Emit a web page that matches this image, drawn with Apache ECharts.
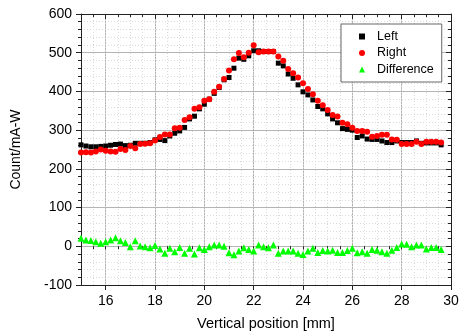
<!DOCTYPE html>
<html>
<head>
<meta charset="utf-8">
<script src="https://cdn.jsdelivr.net/npm/echarts@6/dist/echarts.min.js"></script>
<style>
html, body { margin: 0; padding: 0; background: #fff; }
#graph { width: 459px; height: 335px; }
</style>
</head>
<body>
<div id="graph"></div>
<script>
"use strict"

// vertical position [mm]
const positions = [15.0, 15.2, 15.4, 15.6, 15.8, 16.0, 16.2, 16.4, 16.6, 16.8,
    17.0, 17.2, 17.4, 17.6, 17.8, 18.0, 18.2, 18.4, 18.6, 18.8,
    19.0, 19.2, 19.4, 19.6, 19.8, 20.0, 20.2, 20.4, 20.6, 20.8,
    21.0, 21.2, 21.4, 21.6, 21.8, 22.0, 22.2, 22.4, 22.6, 22.8,
    23.0, 23.2, 23.4, 23.6, 23.8, 24.0, 24.2, 24.4, 24.6, 24.8,
    25.0, 25.2, 25.4, 25.6, 25.8, 26.0, 26.2, 26.4, 26.6, 26.8,
    27.0, 27.2, 27.4, 27.6, 27.8, 28.0, 28.2, 28.4, 28.6, 28.8,
    29.0, 29.2, 29.4, 29.6];
const leftVals = [262, 259, 257, 257, 258, 259, 261, 263, 264, 260,
    261, 266, 266, 266, 268, 275, 276, 273, 285, 292,
    298, 307, 329, 336, 355, 367, 380, 395, 410, 430,
    436, 460, 486, 483, 492, 505, 505, 503, 503, 503,
    473, 466, 445, 434, 417, 399, 391, 378, 361, 355,
    342, 329, 319, 304, 302, 300, 281, 285, 277, 276,
    276, 272, 268, 268, 272, 268, 268, 268, 272, 266,
    267, 267, 267, 262];
const rightVals = [242, 243, 242, 245, 250, 247, 245, 244, 251, 249,
    259, 253, 264, 265, 266, 273, 282, 289, 289, 305,
    306, 326, 333, 355, 359, 376, 380, 399, 412, 432,
    454, 483, 499, 488, 500, 519, 501, 503, 503, 503,
    490, 479, 458, 447, 436, 421, 406, 393, 376, 364,
    352, 339, 335, 319, 315, 306, 298, 298, 296, 283,
    285, 288, 288, 276, 275, 264, 264, 264, 270, 264,
    270, 270, 270, 268];
const diffVals = [21, 16, 15, 12, 8, 12, 16, 22, 14, 10,
    -1, 14, 1, -1, -4, 2, -7, -18, -5, -14,
    -3, -18, -5, -20, -4, -8, -1, 3, 3, 0,
    -17, -22, -12, -4, -8, -12, 3, -1, -4, 3,
    -18, -12, -12, -12, -18, -21, -12, -5, -16, -11,
    -12, -10, -16, -16, -11, -5, -17, -14, -18, -8,
    -10, -14, -18, -10, -3, 6, 5, -1, 3, 3,
    -7, -3, -3, -8];
const majorX = [16, 18, 20, 22, 24, 26, 28, 30];

const axisCol = "#222";
const fontFam = "Liberation Sans, Arial, sans-serif";
const gridRect = { left: 81, right: 8, top: 14, bottom: 50, outerBoundsMode: "none" };

const pair = vals => positions.map((x, i) => [x, vals[i]]);

const xMajor = (pos, inside, show) => ({
    type: "value", gridIndex: 0, position: pos, min: 15, max: 30,
    axisLine: { show: true, onZero: false, lineStyle: { color: axisCol } },
    axisTick: { show: true, inside: inside, length: 5, customValues: majorX, lineStyle: { color: axisCol } },
    axisLabel: { show: show, customValues: majorX, margin: 9, color: "#000", fontSize: 14, fontFamily: fontFam },
    splitLine: { show: show, lineStyle: { color: "#b4b4b4", width: 1 } },
    name: show ? "Vertical position [mm]" : "", nameLocation: "middle", nameGap: 31,
    nameTextStyle: { color: "#000", fontSize: 14.5, fontFamily: fontFam }
});
const xMinor = (pos, inside, show) => ({
    type: "value", gridIndex: 1, position: pos, min: 15, max: 30, interval: 0.5,
    axisLine: { show: false },
    axisTick: { show: true, inside: inside, length: 3, lineStyle: { color: axisCol } },
    axisLabel: { show: false },
    splitLine: { show: show, lineStyle: { color: "#dadada", type: [1, 2] } }
});
const yAx = (pos, inside, show) => ({
    type: "value", gridIndex: 0, position: pos, min: -100, max: 600, interval: 100,
    axisLine: { show: true, lineStyle: { color: axisCol } },
    axisTick: { show: true, inside: inside, length: 5, lineStyle: { color: axisCol } },
    minorTick: { show: true, splitNumber: 5, length: 3, lineStyle: { color: axisCol } },
    axisLabel: { show: show, margin: 9, color: "#000", fontSize: 14, fontFamily: fontFam },
    splitLine: { show: show, lineStyle: { color: "#b4b4b4", width: 1 } },
    minorSplitLine: { show: show, lineStyle: { color: "#dadada", type: [1, 2] } },
    name: show ? "Count/mA-W" : "", nameLocation: "middle", nameGap: 58,
    nameTextStyle: { color: "#000", fontSize: 14, fontFamily: fontFam }
});

const myChart = echarts.init(document.getElementById("graph"), null, { renderer: "canvas" });
const option = {
    animation: false,
    backgroundColor: "#fff",
    grid: [Object.assign({}, gridRect), Object.assign({}, gridRect)],
    xAxis: [xMajor("bottom", false, true), xMajor("top", true, false), xMinor("bottom", false, true), xMinor("top", true, false)],
    yAxis: [yAx("left", false, true), yAx("right", true, false),
        { type: "value", gridIndex: 1, min: -100, max: 600, show: false }],
    legend: {
        left: 341, top: 24, orient: "vertical",
        backgroundColor: "#fff", borderColor: "#666", borderWidth: 1, borderRadius: 0,
        padding: [6, 8, 6, 18], itemGap: 3.5, itemWidth: 6, itemHeight: 6,
        textStyle: { color: "#000", fontSize: 12.5, fontFamily: fontFam, padding: [0, 0, 0, 7] },
        data: ["Left", "Right", "Difference"]
    },
    series: [
        { name: "Left", type: "scatter", xAxisIndex: 0, yAxisIndex: 0, symbol: "rect", symbolSize: 5, itemStyle: { color: "#000", opacity: 1 }, data: pair(leftVals) },
        { name: "Right", type: "scatter", xAxisIndex: 0, yAxisIndex: 0, symbol: "circle", symbolSize: 6, itemStyle: { color: "#ff0000", opacity: 1 }, data: pair(rightVals) },
        { name: "Difference", type: "scatter", xAxisIndex: 0, yAxisIndex: 0, symbol: "triangle", symbolSize: 7, itemStyle: { color: "#00ff00", opacity: 1 }, data: pair(diffVals) }
    ]
};
myChart.setOption(option);
</script>
</body>
</html>
